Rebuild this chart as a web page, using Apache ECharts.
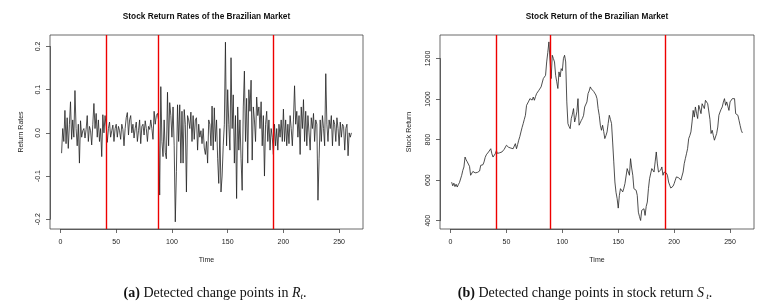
<!DOCTYPE html>
<html>
<head>
<meta charset="utf-8">
<script src="https://cdn.jsdelivr.net/npm/echarts@6/dist/echarts.min.js"></script>
<style>
html,body{margin:0;padding:0;background:#fff;}
#chart{width:778px;height:307px;}
</style>
</head>
<body>
<div id="chart"></div>
<script>
const timeTickMin = 0, timeTickMax = 250, timeTickStep = 50;
const rateTickMin = -0.2, rateTickMax = 0.2, rateTickStep = 0.1;
const stockTickMin = 400, stockTickMax = 1200, stockTickStep = 200;
const changePointsRates = [41, 88, 191];
const changePointsStock = [41, 89, 192];

const returnRates = [
-0.047,0.01,-0.02,0.052,-0.025,0.035,-0.036,0.02,0.072,-0.015,
0.03,-0.01,0.098,0.01,-0.03,0.02,-0.07,0.028,-0.01,0.005,
0.01,-0.012,0.008,0.04,-0.02,0.015,0.005,-0.028,0.02,0.068,
0.01,0.045,-0.01,0.03,-0.02,0.01,-0.055,0.042,0.0,0.04,
0.015,-0.022,0.01,0.025,-0.01,0.005,0.018,-0.02,0.01,0.02,
-0.01,0.015,0.005,-0.015,0.02,0.008,-0.03,0.01,0.035,0.047,
-0.005,0.03,0.04,0.0,0.02,-0.012,0.01,0.025,-0.02,0.005,
0.03,-0.025,0.015,0.02,-0.005,0.028,0.01,-0.02,0.015,0.008,
0.03,0.01,-0.015,0.05,0.02,0.04,0.045,0.03,
-0.144,0.107,-0.02,-0.055,0.03,-0.045,-0.06,0.094,-0.03,0.07,
0.04,-0.01,0.06,-0.03,-0.206,-0.09,0.065,-0.02,0.065,-0.07,
0.05,-0.07,0.054,0.02,-0.137,0.04,0.03,0.01,0.048,-0.02,
0.04,-0.015,0.03,0.035,-0.04,0.02,-0.01,0.005,-0.025,0.01,
-0.035,-0.05,-0.02,-0.07,0.03,0.02,-0.03,0.062,-0.04,0.058,
-0.02,0.03,-0.06,-0.117,0.01,-0.137,-0.1,-0.03,0.02,0.21,
-0.03,0.1,0.02,-0.04,0.174,0.01,0.088,-0.07,0.04,-0.152,
0.06,-0.04,0.03,-0.06,-0.133,0.06,0.143,-0.02,0.08,-0.07,
0.1,0.05,0.122,-0.063,0.06,0.03,-0.02,0.083,0.04,0.06,
0.01,0.072,-0.03,0.04,-0.1,0.02,0.05,-0.02,0.03,-0.04,
0.01,-0.01,-0.05,
0.02,-0.03,0.01,-0.04,0.02,-0.01,0.03,-0.02,0.055,
-0.02,0.03,-0.03,0.02,-0.025,0.04,0.01,-0.03,0.03,0.109,
0.02,0.05,-0.01,0.04,-0.05,0.06,0.01,0.077,-0.02,0.05,
-0.03,0.04,0.0,-0.04,0.035,0.01,0.045,-0.02,0.03,0.02,
-0.156,-0.06,0.03,-0.02,0.04,0.01,-0.03,0.137,0.02,-0.02,
0.03,0.01,0.04,-0.03,0.03,0.02,-0.02,0.035,0.01,-0.03,
0.025,-0.01,0.02,0.015,-0.04,0.01,0.02,-0.053,0.0,-0.01,
0.0
];

const stockReturn = [
590,572,585,568,580,566,578,588,582,624,
648,665,714,700,690,692,668,624,630,643,
640,636,642,638,640,645,673,680,676,690,
712,725,718,739,748,755,730,714,722,730,
745,732,728,735,740,739,748,752,755,772,
768,762,764,758,760,755,768,780,755,775,
797,815,838,860,879,900,920,969,975,990,
1002,1008,995,1010,994,1012,1027,1035,1043,1050,
1060,1058,1101,1110,1117,1183,1230,1282,1274,1101,
1216,1200,1183,1117,1085,1052,1134,1109,1150,1140,
1200,1216,1183,986,879,865,854,904,925,953,
887,910,937,1002,871,880,895,905,920,961,
970,986,1027,1040,1060,1050,1043,1038,1035,1020,
1002,953,920,871,846,871,840,805,820,838,
880,920,900,879,788,690,591,540,509,462,
525,558,550,542,560,583,575,657,640,624,
706,660,624,558,567,550,525,442,420,401,
451,455,459,426,470,492,558,607,607,657,
657,640,690,739,680,640,632,650,665,624,
640,649,635,624,591,575,561,558,570,583,
600,616,607,612,616,600,607,640,681,706,
730,755,805,820,838,887,944,911,961,930,
904,969,950,928,977,965,953,994,985,977,
969,900,830,846,821,797,797,830,862,920,
936,950,961,985,1002,969,986,965,944,986,
990,1002,995,1002,928,920,920,895,870,846,833
];

const sans = 'Liberation Sans, Arial, Helvetica, sans-serif';
const serif = 'Liberation Serif, Times New Roman, serif';
const boxColor = '#444';
const textColor = '#222';

// Plot regions (layout) and axis extents (R style: data range extended by 4%)
const panels = [
  {left: 50, top: 35, width: 313, height: 194, xMin: -9.4, xMax: 271.4, yMin: -0.2226, yMax: 0.2266,
   yTickMin: rateTickMin, yTickMax: rateTickMax, yTickStep: rateTickStep, yName: 'Return Rates', yNameGap: 25,
   yFmt: v => (Math.abs(v) < 1e-9 ? 0 : v).toFixed(1)},
  {left: 440, top: 35, width: 314, height: 194, xMin: -9.4, xMax: 271.4, yMin: 359, yMax: 1316,
   yTickMin: stockTickMin, yTickMax: stockTickMax, yTickStep: stockTickStep, yName: 'Stock Return', yNameGap: 27,
   yFmt: v => String(Math.round(v))}
];

const grids = [], xAxes = [], yAxes = [];
const tickStyle = {show: true, inside: false, length: 4, lineStyle: {color: boxColor, width: 0.8}};
const lblStyle = {fontFamily: sans, fontSize: 7, color: textColor};
const nameStyle = {fontFamily: sans, fontSize: 7, color: textColor};

panels.forEach((p, k) => {
  // data grid (index k)
  grids[k] = {left: p.left, top: p.top, width: p.width, height: p.height, show: true,
              borderColor: boxColor, borderWidth: 0.8, backgroundColor: 'transparent'};
  xAxes[k] = {type: 'value', gridIndex: k, min: p.xMin, max: p.xMax,
              name: 'Time', nameLocation: 'middle', nameGap: 28, nameTextStyle: nameStyle,
              axisLine: {show: false, onZero: false}, axisTick: {show: false}, axisLabel: {show: false}, splitLine: {show: false}};
  yAxes[k] = {type: 'value', gridIndex: k, min: p.yMin, max: p.yMax,
              name: p.yName, nameLocation: 'middle', nameGap: p.yNameGap, nameRotate: 90, nameTextStyle: nameStyle,
              axisLine: {show: false, onZero: false}, axisTick: {show: false}, axisLabel: {show: false}, splitLine: {show: false}};

  // x axis grid: spans exactly from first to last time tick
  const sx = p.width / (p.xMax - p.xMin);
  const gx = 2 + k;
  grids[gx] = {left: p.left + (timeTickMin - p.xMin) * sx, width: (timeTickMax - timeTickMin) * sx,
               top: p.top, height: p.height, show: false};
  xAxes[gx] = {type: 'value', gridIndex: gx, min: timeTickMin, max: timeTickMax, interval: timeTickStep,
               axisLine: {show: true, onZero: false, lineStyle: {color: boxColor, width: 0.8}},
               axisTick: tickStyle, axisLabel: Object.assign({margin: 10}, lblStyle), splitLine: {show: false}};
  yAxes[gx] = {type: 'value', gridIndex: gx, min: 0, max: 1, show: false};

  // y axis grid: spans exactly from first to last value tick
  const sy = p.height / (p.yMax - p.yMin);
  const gy = 4 + k;
  grids[gy] = {left: p.left, width: p.width, top: p.top + (p.yMax - p.yTickMax) * sy,
               height: (p.yTickMax - p.yTickMin) * sy, show: false};
  xAxes[gy] = {type: 'value', gridIndex: gy, min: 0, max: 1, show: false};
  yAxes[gy] = {type: 'value', gridIndex: gy, min: p.yTickMin, max: p.yTickMax, interval: p.yTickStep,
               axisLine: {show: true, onZero: false, lineStyle: {color: boxColor, width: 0.8}},
               axisTick: tickStyle,
               axisLabel: Object.assign({margin: 8, rotate: 90, formatter: p.yFmt}, lblStyle),
               splitLine: {show: false}};
});

function cpLine(points) {
  return {
    silent: true, symbol: ['none', 'none'], animation: false,
    label: {show: false},
    lineStyle: {color: '#ee0000', width: 1.4, type: 'solid'},
    emphasis: {disabled: true},
    data: points.map(p => ({xAxis: p}))
  };
}

const chart = echarts.init(document.getElementById('chart'), null, {renderer: 'canvas'});
const option = {
  backgroundColor: '#ffffff',
  animation: false,
  grid: grids,
  xAxis: xAxes,
  yAxis: yAxes,
  series: [
    {
      type: 'line', xAxisIndex: 0, yAxisIndex: 0, showSymbol: false, symbol: 'none',
      lineStyle: {color: '#222', width: 0.8},
      data: returnRates.map((v, i) => [i + 1, v]),
      markLine: cpLine(changePointsRates)
    },
    {
      type: 'line', xAxisIndex: 1, yAxisIndex: 1, showSymbol: false, symbol: 'none',
      lineStyle: {color: '#222', width: 0.8},
      data: stockReturn.map((v, i) => [i + 1, v]),
      markLine: cpLine(changePointsStock)
    }
  ],
  graphic: [
    {type: 'text', x: 206.5, y: 17, style: {text: 'Stock Return Rates of the Brazilian Market', textAlign: 'center', textVerticalAlign: 'middle', fontFamily: sans, fontWeight: 'bold', fontSize: 8.3, fill: '#111'}},
    {type: 'text', x: 597, y: 17, style: {text: 'Stock Return of the Brazilian Market', textAlign: 'center', textVerticalAlign: 'middle', fontFamily: sans, fontWeight: 'bold', fontSize: 8.3, fill: '#111'}},
    {type: 'text', x: 215, y: 293, style: {
      text: '{b|(a)}{n| Detected change points in }{i|R}{s|t}{n|.}',
      textAlign: 'center', textVerticalAlign: 'middle',
      rich: {
        b: {fontFamily: serif, fontWeight: 'bold', fontSize: 14, fill: '#111'},
        n: {fontFamily: serif, fontSize: 14, fill: '#111'},
        i: {fontFamily: serif, fontStyle: 'italic', fontSize: 14, fill: '#111'},
        s: {fontFamily: serif, fontStyle: 'italic', fontSize: 9, fill: '#111', padding: [8, 0, 0, 0]}
      }
    }},
    {type: 'text', x: 585, y: 293, style: {
      text: '{b|(b)}{n| Detected change points in stock return }{i|S}{s| t}{n|.}',
      textAlign: 'center', textVerticalAlign: 'middle',
      rich: {
        b: {fontFamily: serif, fontWeight: 'bold', fontSize: 14, fill: '#111'},
        n: {fontFamily: serif, fontSize: 14, fill: '#111'},
        i: {fontFamily: serif, fontStyle: 'italic', fontSize: 14, fill: '#111'},
        s: {fontFamily: serif, fontStyle: 'italic', fontSize: 9, fill: '#111', padding: [8, 0, 0, 0]}
      }
    }}
  ]
};
chart.setOption(option);
</script>
</body>
</html>
